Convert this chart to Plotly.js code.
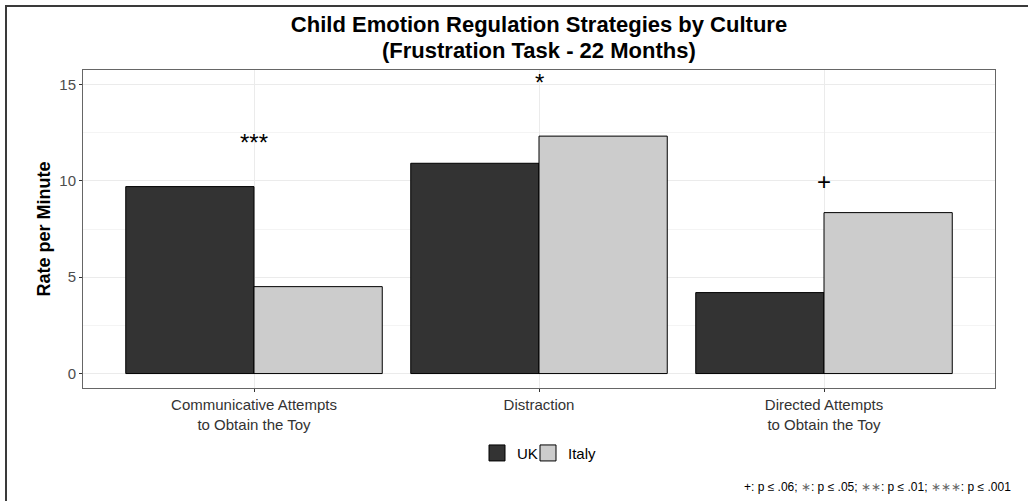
<!DOCTYPE html>
<html>
<head>
<meta charset="utf-8">
<script src="https://cdn.plot.ly/plotly-3.0.1.min.js"></script>
<style>
  html, body { margin: 0; padding: 0; background: #fff; overflow: hidden; }
  #chart { width: 1028px; height: 501px; }
  #frame { position: absolute; left: 5px; top: 5px; width: 1100px; height: 600px;
           border-top: 2px solid #3a3a3a; border-left: 2px solid #3a3a3a; pointer-events: none; }
</style>
</head>
<body>
<div id="chart"></div>
<div id="frame"></div>
<script>
const categories = ["Communicative Attempts<br>to Obtain the Toy", "Distraction", "Directed Attempts<br>to Obtain the Toy"];
const ukValues = [9.70, 10.91, 4.20];
const italyValues = [4.51, 12.32, 8.35];
const sigLabels = ["***", "*", "+"];
const sigY = [12.0, 15.1, 9.95];
const yTicks = [0, 5, 10, 15];
const titleLines = ["Child Emotion Regulation Strategies by Culture", "(Frustration Task - 22 Months)"];

const font = "Liberation Sans, Arial, sans-serif";
const ukColor = "#333333";
const italyColor = "#cccccc";

const traces = [
  {
    type: "bar", name: "UK", x: categories, y: ukValues, showlegend: false,
    marker: { color: ukColor, line: { color: "#000000", width: 1 } },
    hoverinfo: "skip"
  },
  {
    type: "bar", name: "Italy", x: categories, y: italyValues, showlegend: false,
    marker: { color: italyColor, line: { color: "#000000", width: 1 } },
    hoverinfo: "skip"
  },
  {
    type: "scatter", mode: "markers", name: "UK", x: [null], y: [null], showlegend: true, legend: "legend",
    marker: { symbol: "square", size: 16, color: ukColor, line: { color: "#000", width: 1 } },
    hoverinfo: "skip"
  },
  {
    type: "scatter", mode: "markers", name: "Italy", x: [null], y: [null], showlegend: true, legend: "legend2",
    marker: { symbol: "square", size: 16, color: italyColor, line: { color: "#000", width: 1 } },
    hoverinfo: "skip"
  }
];

const annotations = sigLabels.map((s, i) => ({
  x: categories[i], y: sigY[i], xref: "x", yref: "y",
  text: s, showarrow: false, yanchor: "middle",
  font: { family: font, size: 24, color: "#000" }
}));

annotations.push({
  xref: "paper", yref: "paper", x: 0.5, y: 1 + (70 - 50) / 318, xanchor: "center", yanchor: "middle",
  text: "<b>" + titleLines[1] + "</b>", showarrow: false,
  font: { family: font, size: 22, color: "#000" }
});

annotations.push({
  xref: "paper", yref: "paper", x: 1.02, y: -0.31, xanchor: "right", yanchor: "middle",
  text: "+: p ≤ .06; <span style='color:#666'>∗</span>: p ≤ .05; <span style='color:#666'>∗∗</span>: p ≤ .01; <span style='color:#666'>∗∗∗</span>: p ≤ .001",
  showarrow: false, font: { family: font, size: 12, color: "#000" }
});

const legendBase = {
  orientation: "h", xanchor: "left", y: -0.205, yanchor: "middle",
  font: { family: font, size: 15, color: "#000" }, itemwidth: 30, bgcolor: "rgba(0,0,0,0)"
};

const layout = {
  width: 1028, height: 501,
  margin: { l: 83, r: 33, t: 70, b: 113 },
  paper_bgcolor: "#ffffff", plot_bgcolor: "#ffffff",
  title: {
    text: "<b>" + titleLines[0] + "</b>",
    x: 0.5, xref: "paper", xanchor: "center", y: 1 - 24 / 501, yref: "container", yanchor: "middle",
    font: { family: font, size: 22, color: "#000" }
  },
  barmode: "group", bargap: 0.1, bargroupgap: 0,
  xaxis: {
    type: "category", range: [-0.6, 2.6],
    showgrid: true, gridcolor: "#ebebeb", gridwidth: 1,
    showline: true, mirror: true, linecolor: "#666666", linewidth: 1,
    ticks: "outside", ticklen: 3, tickcolor: "#333", tickwidth: 1,
    tickfont: { family: font, size: 15, color: "#333" },
    zeroline: false, fixedrange: true
  },
  yaxis: {
    range: [-0.75, 15.75], tickvals: yTicks,
    showgrid: true, gridcolor: "#ebebeb", gridwidth: 1,
    minor: { dtick: 2.5, tick0: 0, showgrid: true, gridcolor: "#f4f4f4", gridwidth: 1 },
    showline: true, mirror: true, linecolor: "#666666", linewidth: 1,
    ticks: "outside", ticklen: 3, tickcolor: "#333", tickwidth: 1,
    tickfont: { family: font, size: 15, color: "#4d4d4d" },
    title: { text: "<b>Rate per Minute</b>", font: { family: font, size: 18, color: "#000" }, standoff: 4 },
    zeroline: false, fixedrange: true
  },
  showlegend: true,
  legend: Object.assign({}, legendBase, { x: (477 - 83) / 912 }),
  legend2: Object.assign({}, legendBase, { x: (528 - 83) / 912 }),
  annotations: annotations
};

Plotly.newPlot("chart", traces, layout, { displayModeBar: false, staticPlot: true });
</script>
</body>
</html>
